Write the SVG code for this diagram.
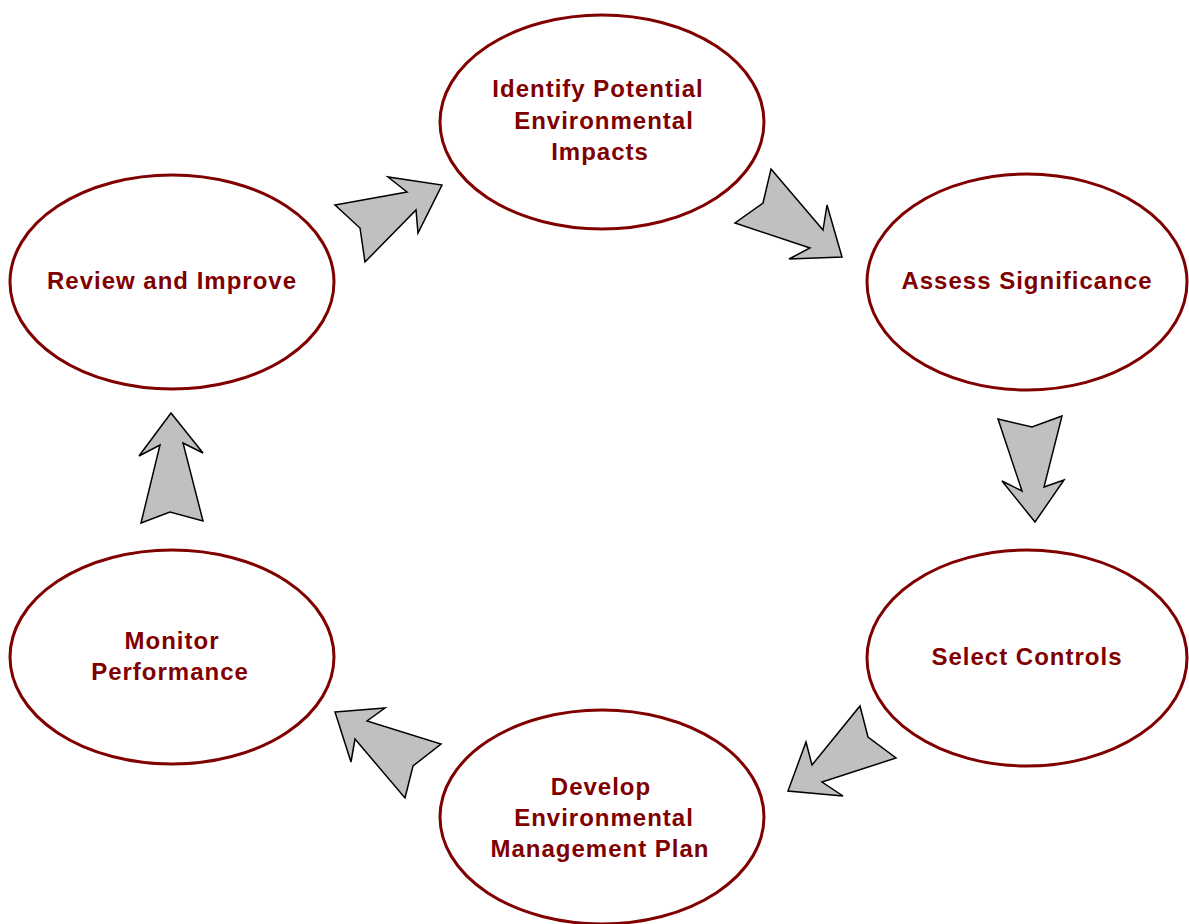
<svg xmlns="http://www.w3.org/2000/svg" width="1189" height="924" viewBox="0 0 1189 924">
<style>
.node ellipse{fill:#fff;stroke:#800000;stroke-width:3}
.node text{font-family:"Liberation Sans",Arial,sans-serif;font-weight:bold;font-size:24px;fill:#800000;text-anchor:middle;letter-spacing:1px}
.arr polygon{fill:#c0c0c0;stroke:#000;stroke-width:1.5;stroke-linejoin:miter}
</style>
<rect width="1189" height="924" fill="#fff"/>
<g id="identify" class="node"><ellipse cx="602" cy="122" rx="162" ry="107"/><text x="598" y="97">Identify Potential</text><text x="604" y="129">Environmental</text><text x="600" y="160">Impacts</text></g>
<g id="assess" class="node"><ellipse cx="1027" cy="282" rx="160" ry="108"/><text x="1027" y="289">Assess Significance</text></g>
<g id="select" class="node"><ellipse cx="1027" cy="658" rx="160" ry="108"/><text x="1027" y="665">Select Controls</text></g>
<g id="develop" class="node"><ellipse cx="602" cy="817" rx="162" ry="107"/><text x="601" y="795">Develop</text><text x="604" y="826">Environmental</text><text x="600" y="857">Management Plan</text></g>
<g id="monitor" class="node"><ellipse cx="172" cy="657" rx="162" ry="107"/><text x="172" y="649">Monitor</text><text x="170" y="680">Performance</text></g>
<g id="review" class="node"><ellipse cx="172" cy="282" rx="162" ry="107"/><text x="172" y="289">Review and Improve</text></g>
<g id="connectors" class="arr">
<polygon points="335,205 407,192 388,177 442,185 418,233 416,210 365,262 360,228"/>
<polygon points="771,169 823,230 827,205 842,257 789,259 810,248 735,223 763,203"/>
<polygon points="998,419 1032,427 1062,416 1044,487 1064,480 1035,522 1002,481 1022,491"/>
<polygon points="860,706 868,737 896,758 822,782 843,796 788,791 806,742 812,765"/>
<polygon points="335,712 385,708 367,721 441,744 413,766 405,798 355,739 351,762"/>
<polygon points="171,413 203,453 183,443 203,521 170,512 141,523 160,445 139,456"/>
</g>
</svg>
